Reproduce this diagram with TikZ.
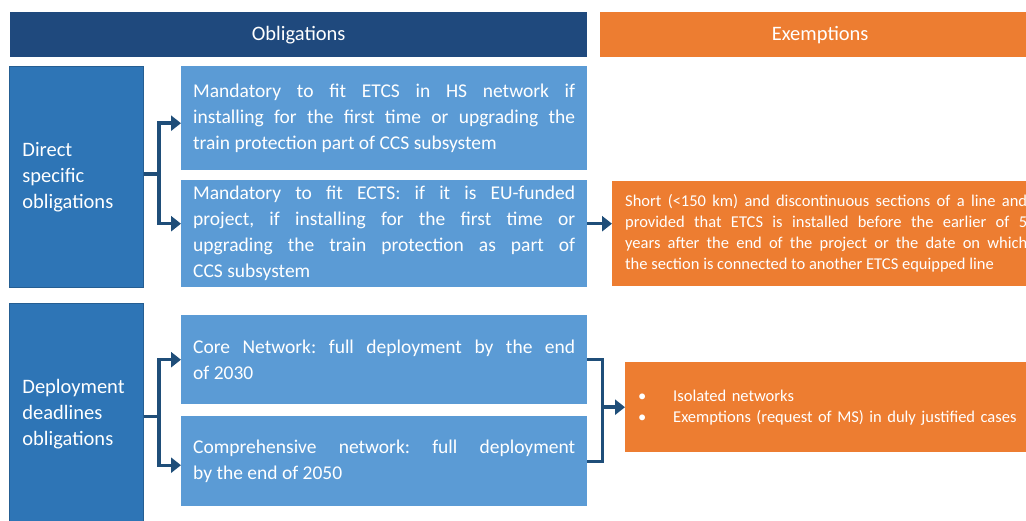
\documentclass[tikz,border=0pt]{standalone}
\usepackage{fontspec}
\setmainfont{Carlito}
\usetikzlibrary{arrows.meta,positioning}

\definecolor{headcolor}{RGB}{31,73,125}
\definecolor{exemptcolor}{RGB}{237,125,49}
\definecolor{groupcolor}{RGB}{46,117,182}
\definecolor{itemcolor}{RGB}{91,155,213}
\definecolor{linkcolor}{RGB}{31,78,121}

\tikzset{
    header/.style={fill=#1, text=white, anchor=north west, inner sep=0pt,
        minimum height=45pt, font=\fontsize{20.5}{24}\selectfont},
    group/.style={fill=groupcolor, draw=groupcolor!80!black, line width=0.8pt,
        text=white, anchor=north west, inner xsep=13pt, text width=108pt,
        align=left, font=\fontsize{20.5}{26}\selectfont},
    item/.style={fill=itemcolor, text=white, anchor=north west, inner xsep=12pt,
        inner ysep=2pt, text width=382pt, align=justify,
        font=\fontsize{19.5}{26}\selectfont},
    exempt/.style={fill=exemptcolor, text=white, anchor=north west, inner xsep=13pt,
        inner ysep=2pt, text width=402pt, align=justify,
        font=\fontsize{16.5}{21}\selectfont},
    link/.style={linkcolor, line width=3.4pt},
    conn/.style={link, -{Triangle[length=10pt,width=15pt]}}
}

\begin{document}
\frenchspacing
\begin{tikzpicture}[x=1pt, y=-1pt]
    \useasboundingbox (0,0) rectangle (1026,521);
    \clip (0,0) rectangle (1026,521);

    % ==========================================
    % --- Column headers ---
    % ==========================================
    \node[header=headcolor, minimum width=577pt] (hobl) at (10,12) {Obligations};
    \node[header=exemptcolor, minimum width=440pt] (hexm) at (600,12) {Exemptions};

    % ==========================================
    % --- Direct specific obligations ---
    % ==========================================
    \node[group, minimum height=221pt] (direct) at (9,66)
        {Direct\\ specific\\ obligations};

    \node[item, minimum height=104pt] (fiths) at (181,66)
        {Mandatory to fit ETCS in HS network if\linebreak
         installing for the first time or upgrading the\linebreak
         train protection part of CCS subsystem};
    \node[item, minimum height=107pt] (fiteu) at (181,180)
        {Mandatory to fit ECTS: if it is EU-funded\linebreak
         project, if installing for the first time or\linebreak
         upgrading the train protection as part of\linebreak
         CCS subsystem};

    \node[exempt, minimum height=105pt] (short) at (612,181)
        {Short (<150 km) and discontinuous sections of a line and\linebreak
         provided that ETCS is installed before the earlier of 5\linebreak
         years after the end of the project or the date on which\linebreak
         the section is connected to another ETCS equipped line};

    % Bracket from group box to both items
    \draw[link] ([yshift=3pt]direct.east) -- ++(15pt,0) coordinate (ja);
    \draw[conn] (ja) |- ([yshift=-5pt]fiths.west);
    \draw[conn] (ja) |- ([yshift=10pt]fiteu.west);
    \draw[conn] ([yshift=10pt]fiteu.east) -- ([yshift=10pt]fiteu.east -| short.west);

    % ==========================================
    % --- Deployment deadlines obligations ---
    % ==========================================
    \node[group, minimum height=222pt] (deadline) at (9,303)
        {Deployment\\ deadlines\\ obligations};

    \node[item, minimum height=89pt] (core) at (181,315)
        {Core Network: full deployment by the end\linebreak
         of 2030};
    \node[item, minimum height=90pt] (comp) at (181,416)
        {Comprehensive network: full deployment\linebreak
         by the end of 2050};

    \node[exempt, minimum height=90pt, text width=402pt, align=left] (iso) at (625,362)
        {\makebox[35pt][l]{\textbullet}Isolated networks\\
         \makebox[35pt][l]{\textbullet}Exemptions (request of MS) in duly justified cases};

    % Bracket from group box to both items
    \draw[link] ([yshift=-2pt]deadline.east) -- ++(15pt,0) coordinate (jb);
    \draw[conn] (jb) |- (core.west);
    \draw[conn] (jb) |- ([yshift=-4pt]comp.west);

    % Bracket joining both items to the exemption box
    \draw[link] (core.east) -- ++(15pt,0) coordinate (rb) |- (comp.east);
    \draw[conn] (rb |- iso.west) -- (iso.west);

\end{tikzpicture}
\end{document}
